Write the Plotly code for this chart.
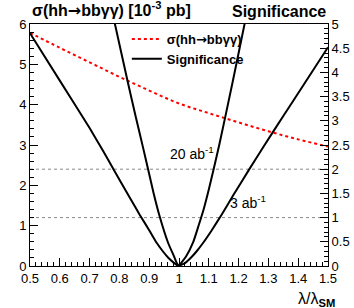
import plotly.graph_objects as go

# ---- data ----
lam_xsec = [0.5, 0.6, 0.7, 0.8, 0.9, 1.0, 1.1, 1.2, 1.3, 1.4, 1.5]
xsec = [5.78, 5.41, 5.05, 4.69, 4.35, 4.03, 3.79, 3.56, 3.34, 3.14, 2.96]

lam_3ab = [0.5, 0.6, 0.7, 0.745, 0.783, 0.836, 0.869, 0.9, 0.925, 0.945, 0.964, 0.982, 0.992, 1.0,
           1.008, 1.02, 1.043, 1.06, 1.08, 1.11, 1.143, 1.183, 1.233, 1.283, 1.35, 1.42, 1.5]
sig_3ab = [4.81, 3.83, 2.85, 2.38, 1.97, 1.40, 1.05, 0.74, 0.48, 0.31, 0.17, 0.07, 0.025, 0.0,
           0.025, 0.06, 0.19, 0.31, 0.47, 0.74, 1.06, 1.47, 1.97, 2.46, 3.1, 3.76, 4.52]

lam_20ab = [0.75, 0.785, 0.83, 0.855, 0.88, 0.897, 0.915, 0.934, 0.964, 0.984, 0.992, 1.0,
            1.008, 1.023, 1.048, 1.065, 1.084, 1.1, 1.117, 1.135, 1.18, 1.22, 1.25]
sig_20ab = [6.0, 5.0, 3.75, 3.08, 2.43, 1.98, 1.5, 1.05, 0.47, 0.19, 0.07, 0.0,
            0.07, 0.19, 0.5, 0.82, 1.2, 1.58, 2.02, 2.5, 3.8, 5.0, 5.9]

ref_levels = [1, 2]
x_ticks = [0.5, 0.6, 0.7, 0.8, 0.9, 1.0, 1.1, 1.2, 1.3, 1.4, 1.5]

FONT = "Liberation Sans"
ARROW = '<span style="font-family:DejaVu Sans">→</span>'

fig = go.Figure()
fig.add_trace(go.Scatter(x=lam_xsec, y=xsec, mode="lines", yaxis="y",
                         line=dict(color="#ff0000", width=2, dash="dot", shape="spline"),
                         name=f"<b>σ(hh{ARROW}bbγγ)</b>"))
fig.add_trace(go.Scatter(x=lam_20ab, y=sig_20ab, mode="lines", yaxis="y2",
                         line=dict(color="black", width=2, shape="spline", smoothing=0.5),
                         name="<b>Significance</b>"))
fig.add_trace(go.Scatter(x=lam_3ab, y=sig_3ab, mode="lines", yaxis="y2",
                         line=dict(color="black", width=2, shape="spline", smoothing=0.5),
                         showlegend=False))

for lv in ref_levels:
    fig.add_shape(type="line", xref="paper", x0=0, x1=1, yref="y2", y0=lv, y1=lv,
                  line=dict(color="#888888", width=1, dash="dot"), layer="below")

axis_common = dict(showline=True, linecolor="black", linewidth=1, ticks="inside",
                   tickcolor="black", showgrid=False, zeroline=False, automargin=False,
                   tickfont=dict(family=FONT, size=13, color="black"))

fig.update_layout(
    width=354, height=308,
    margin=dict(l=30, r=26, t=24, b=42),
    plot_bgcolor="white", paper_bgcolor="white",
    font=dict(family=FONT, color="black"),
    xaxis=dict(range=[0.5, 1.5], tickvals=x_ticks, ticklen=8, mirror=True,
               minor=dict(dtick=0.02, ticks="inside", ticklen=4, tickcolor="black"),
               **axis_common),
    yaxis=dict(range=[0, 6], dtick=1, ticklen=8,
               minor=dict(dtick=0.2, ticks="inside", ticklen=4, tickcolor="black"),
               **axis_common),
    yaxis2=dict(range=[0, 5], dtick=0.5, ticklen=8, overlaying="y", side="right",
                minor=dict(dtick=0.1, ticks="inside", ticklen=4, tickcolor="black"),
                **axis_common),
    legend=dict(x=0.325, y=1.0, xanchor="left", yanchor="top",
                bgcolor="rgba(0,0,0,0)", font=dict(family=FONT, size=13, color="black"),
                tracegroupgap=0, itemwidth=30),
    showlegend=True,
)

annots = [
    dict(text=f"<b>σ(hh{ARROW}bbγγ) [10<sup>-3</sup> pb]</b>", x=0, y=1.01, xanchor="left", yanchor="bottom",
         xref="paper", yref="paper", font=dict(size=16)),
    dict(text="<b>Significance</b>", x=1, y=1.01, xanchor="right", yanchor="bottom",
         xref="paper", yref="paper", font=dict(size=16)),
    dict(text="λ/λ<sub><b>SM</b></sub>", x=1.03, y=-0.092, xanchor="right", yanchor="top",
         xref="paper", yref="paper", font=dict(size=16)),
    dict(text="20 ab<sup>-1</sup>", x=1.044, y=2.33, xref="x", yref="y2",
         font=dict(size=14)),
    dict(text="3 ab<sup>-1</sup>", x=1.232, y=1.32, xref="x", yref="y2",
         font=dict(size=14)),
]
for a in annots:
    a.setdefault("showarrow", False)
    a["font"]["family"] = FONT
    a["font"]["color"] = "black"
fig.update_layout(annotations=annots)

fig.write_html("out.html", config={"displayModeBar": False},
               post_script="document.body.style.margin='0';document.body.style.overflow='hidden';")
